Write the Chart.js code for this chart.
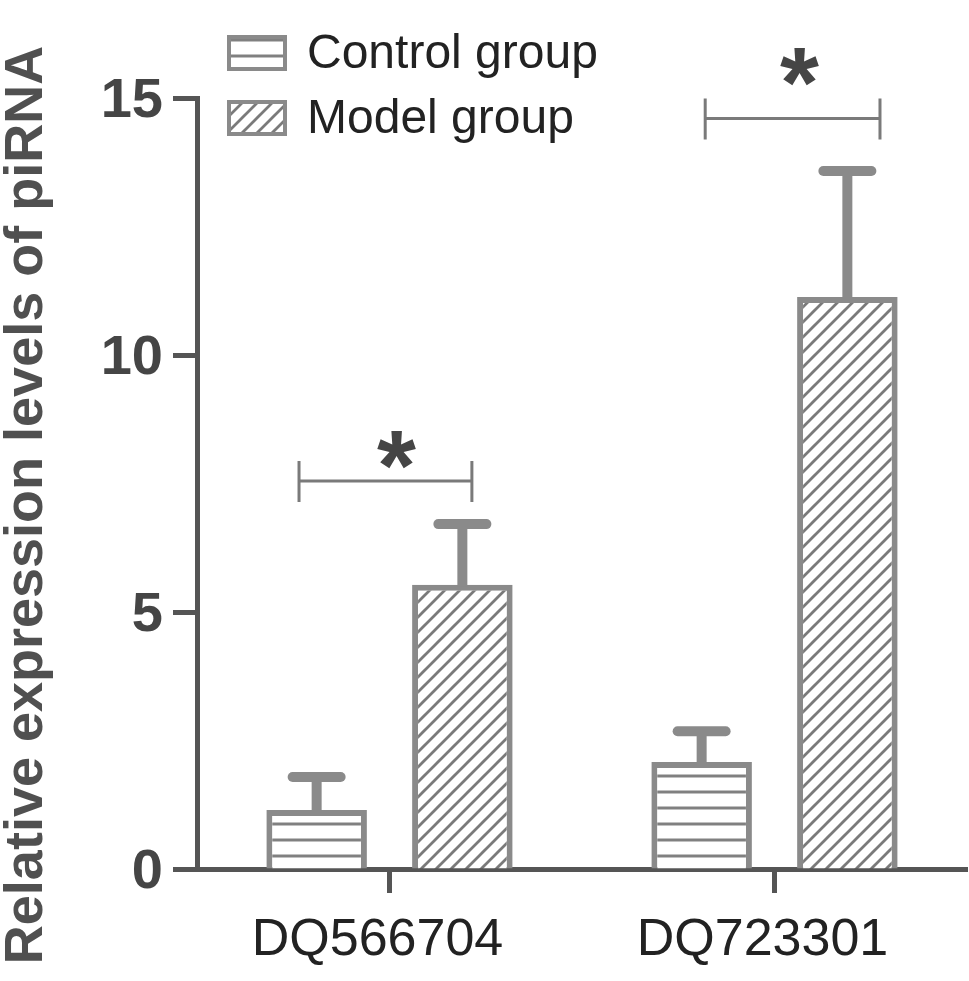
<!DOCTYPE html>
<html><head><meta charset="utf-8">
<script src="https://cdn.jsdelivr.net/npm/chart.js@4/dist/chart.umd.min.js"></script>
<style>html,body{margin:0;padding:0;background:#fff}#wrap{width:969px;height:981px}</style>
</head><body><div id="wrap"><canvas id="c" width="969" height="981"></canvas></div>
<script>
// ---- data ----
const categories = ['DQ566704', 'DQ723301'];
const seriesNames = ['Control group', 'Model group'];
const controlMean = [1.15, 2.08];
const controlSem  = [0.64, 0.60];
const modelMean   = [5.53, 11.13];
const modelSem    = [1.18, 2.45];
const yTicks = [0, 5, 10, 15];
// significance annotations (y in data units, x as offsets in category units)
const sigBracketY    = [7.55, 14.6];
const sigBracketFrom = [-0.235, -0.18];
const sigBracketTo   = [0.214, 0.274];
const sigStarY       = [8.15, 15.6];
const sigStarX       = [0.018, 0.065];
const sigLabel       = ['*', '*'];
const yTitle = 'Relative expression levels of piRNA';

// ---- styles ----
const FONT = "'Liberation Sans', Arial, Helvetica, sans-serif";
const BAR_GRAY = '#8a8a8a';
const AXIS_GRAY = '#555555';

function hatchH() {
  const c = document.createElement('canvas'); c.width = 16; c.height = 16;
  const x = c.getContext('2d');
  x.fillStyle = '#fff'; x.fillRect(0, 0, 16, 16);
  x.strokeStyle = '#808080'; x.lineWidth = 3;
  x.beginPath(); x.moveTo(0, 8); x.lineTo(16, 8); x.stroke();
  return x.createPattern(c, 'repeat');
}
function hatchD() {
  const s = 15;
  const c = document.createElement('canvas'); c.width = s; c.height = s;
  const x = c.getContext('2d');
  x.fillStyle = '#fff'; x.fillRect(0, 0, s, s);
  x.strokeStyle = '#7a7a7a'; x.lineWidth = 2.8;
  x.beginPath();
  x.moveTo(-2, s + 2); x.lineTo(s + 2, -2);
  x.moveTo(-2, 2); x.lineTo(2, -2);
  x.moveTo(s - 2, s + 2); x.lineTo(s + 2, s - 2);
  x.stroke();
  return x.createPattern(c, 'repeat');
}
const patH = hatchH();
const patD = hatchD();

const errorBars = {
  id: 'errorBars',
  afterDatasetsDraw(chart) {
    const ctx = chart.ctx, y = chart.scales.y;
    chart.data.datasets.forEach((ds, di) => {
      const meta = chart.getDatasetMeta(di);
      meta.data.forEach((el, i) => {
        const top = y.getPixelForValue(ds.data[i] + ds.sem[i]);
        ctx.save();
        ctx.strokeStyle = BAR_GRAY; ctx.lineWidth = 10;
        ctx.beginPath(); ctx.moveTo(el.x, el.y + 2); ctx.lineTo(el.x, top); ctx.stroke();
        ctx.lineCap = 'round';
        ctx.beginPath(); ctx.moveTo(el.x - 24, top); ctx.lineTo(el.x + 24, top); ctx.stroke();
        ctx.restore();
      });
    });
  }
};

const sigMarks = {
  id: 'sigMarks',
  afterDatasetsDraw(chart) {
    const ctx = chart.ctx, y = chart.scales.y, xs = chart.scales.x;
    categories.forEach((c, i) => {
      const x1 = xs.getPixelForValue(i + sigBracketFrom[i]);
      const x2 = xs.getPixelForValue(i + sigBracketTo[i]);
      const yb = y.getPixelForValue(sigBracketY[i]);
      ctx.save();
      ctx.strokeStyle = '#7a7a7a'; ctx.lineWidth = 3;
      ctx.beginPath();
      ctx.moveTo(x1, yb); ctx.lineTo(x2, yb);
      ctx.moveTo(x1, yb - 20); ctx.lineTo(x1, yb + 21);
      ctx.moveTo(x2, yb - 20); ctx.lineTo(x2, yb + 21);
      ctx.stroke();
      ctx.font = 'bold 100px ' + FONT;
      ctx.fillStyle = '#454545';
      ctx.textAlign = 'center'; ctx.textBaseline = 'alphabetic';
      const mt = ctx.measureText(sigLabel[i]);
      const ys = y.getPixelForValue(sigStarY[i]);
      const off = (mt.actualBoundingBoxAscent - mt.actualBoundingBoxDescent) / 2;
      ctx.fillText(sigLabel[i], xs.getPixelForValue(i + sigStarX[i]), ys + off);
      ctx.restore();
    });
  }
};

const legendAndTitle = {
  id: 'legendAndTitle',
  afterDraw(chart) {
    const ctx = chart.ctx;
    ctx.save();
    // y title
    ctx.translate(27, 505);
    ctx.rotate(-Math.PI / 2);
    ctx.font = 'bold 54px ' + FONT;
    ctx.fillStyle = '#505050';
    ctx.textAlign = 'center'; ctx.textBaseline = 'middle';
    ctx.fillText(yTitle, 0, 0);
    ctx.restore();
    // legend
    const rows = [53, 118];
    chart.data.datasets.forEach((ds, i) => {
      const cy = rows[i];
      ctx.save();
      ctx.fillStyle = ds.backgroundColor;
      ctx.fillRect(229, cy - 16, 56, 32);
      ctx.strokeStyle = BAR_GRAY; ctx.lineWidth = 4;
      ctx.strokeRect(229, cy - 16, 56, 32);
      ctx.font = '48px ' + FONT;
      ctx.fillStyle = '#222';
      ctx.textAlign = 'left'; ctx.textBaseline = 'middle';
      ctx.fillText(ds.label, 307, cy + 2);
      ctx.restore();
    });
  }
};

new Chart(document.getElementById('c'), {
  type: 'bar',
  data: {
    labels: categories,
    datasets: [
      { label: seriesNames[0], data: controlMean, sem: controlSem, backgroundColor: patH, borderColor: BAR_GRAY, borderWidth: 6 },
      { label: seriesNames[1], data: modelMean, sem: modelSem, backgroundColor: patD, borderColor: BAR_GRAY, borderWidth: 6 }
    ]
  },
  options: {
    responsive: false, animation: false, devicePixelRatio: 1,
    layout: { padding: { top: 98, right: 2, left: 0, bottom: 0 } },
    datasets: { bar: { categoryPercentage: 0.757, barPercentage: 0.69 } },
    plugins: { legend: { display: false }, tooltip: { enabled: false } },
    scales: {
      x: {
        offset: true,
        grid: { offset: false, drawOnChartArea: false, tickLength: 24, tickWidth: 5, tickColor: AXIS_GRAY },
        border: { color: AXIS_GRAY, width: 5 },
        ticks: { font: { family: FONT, size: 52 }, color: '#222', padding: 16, labelOffset: -12 },
        afterFit(s) { s.height = 112; }
      },
      y: {
        min: 0, max: 15,
        afterBuildTicks(s) { s.ticks = yTicks.map(v => ({ value: v })); },
        grid: { drawOnChartArea: false, tickLength: 24, tickWidth: 5, tickColor: AXIS_GRAY },
        border: { color: AXIS_GRAY, width: 5 },
        ticks: { font: { family: FONT, size: 56, weight: 'bold' }, color: '#454545', padding: 10, labelOffset: 4 },
        afterFit(s) { s.width = 197; }
      }
    }
  },
  plugins: [errorBars, sigMarks, legendAndTitle]
});
</script>
</body></html>
